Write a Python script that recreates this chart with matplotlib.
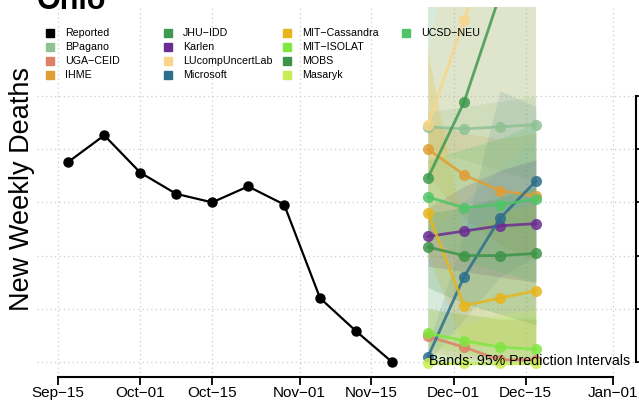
import numpy as np
import matplotlib
matplotlib.use("Agg")
import matplotlib.pyplot as plt
import matplotlib.dates as mdates
from datetime import datetime

plt.rcParams['font.family'] = ['Liberation Sans', 'DejaVu Sans']

# reported weekly deaths (axis values are not shown in the picture, scale is relative)
rep_dates = ['2020-09-17', '2020-09-24', '2020-10-01', '2020-10-08', '2020-10-15',
             '2020-10-22', '2020-10-29', '2020-11-05', '2020-11-12', '2020-11-19']
rep_vals = [188, 213, 178, 158, 150, 165, 148, 60, 29, 0]

fc_dates = ['2020-11-26', '2020-12-03', '2020-12-10', '2020-12-17']

models = ['BPagano', 'UGA-CEID', 'IHME', 'JHU-IDD', 'Karlen', 'LUcompUncertLab',
          'Microsoft', 'MIT-Cassandra', 'MIT-ISOLAT', 'MOBS', 'Masaryk', 'UCSD-NEU']
colors = ['#8fc193', '#e07f68', '#e09e35', '#3f9a4f', '#6a2d91', '#f9d58a',
          '#2c6e8c', '#e6b61c', '#80e640', '#3d9449', '#c9ee55', '#50c468']

point = {
    'BPagano':         [221, 219, 221, 223],
    'UGA-CEID':        [24, 14, 2, 2],
    'IHME':            [200, 176, 161, 156],
    'JHU-IDD':         [173, 244, 345, 450],
    'Karlen':          [118, 123, 128, 130],
    'LUcompUncertLab': [223, 321, 420, 520],
    'Microsoft':       [5, 80, 135, 170],
    'MIT-Cassandra':   [140, 53, 60, 67],
    'MIT-ISOLAT':      [27, 20, 14, 12],
    'MOBS':            [108, 100, 100, 102],
    'Masaryk':         [-1, -1, -1, -1],
    'UCSD-NEU':        [155, 145, 148, 153],
}
lower = {
    'BPagano':         [200, 190, 180, 170],
    'UGA-CEID':        [10, 3, 0, 0],
    'IHME':            [175, 135, 110, 95],
    'JHU-IDD':         [-3, -3, -3, -3],
    'Karlen':          [90, 85, 80, 75],
    'LUcompUncertLab': [120, 150, 180, 210],
    'Microsoft':       [0, 40, 80, 100],
    'MIT-Cassandra':   [100, 15, 15, 15],
    'MIT-ISOLAT':      [15, 8, 3, 0],
    'MOBS':            [70, 55, 45, 35],
    'Masaryk':         [-3, -3, -3, -3],
    'UCSD-NEU':        [120, 95, 85, 75],
}
upper = {
    'BPagano':         [235, 240, 245, 250],
    'UGA-CEID':        [50, 45, 40, 40],
    'IHME':            [225, 215, 210, 215],
    'JHU-IDD':         [600, 900, 1200, 1500],
    'Karlen':          [145, 165, 180, 190],
    'LUcompUncertLab': [290, 450, 650, 850],
    'Microsoft':       [15, 120, 255, 240],
    'MIT-Cassandra':   [290, 120, 140, 150],
    'MIT-ISOLAT':      [50, 45, 42, 42],
    'MOBS':            [140, 145, 155, 165],
    'Masaryk':         [15, 35, 45, 50],
    'UCSD-NEU':        [190, 200, 210, 225],
}

tick_dates = ['2020-09-15', '2020-10-01', '2020-10-15', '2020-11-01',
              '2020-11-15', '2020-12-01', '2020-12-15', '2021-01-01']
y_ticks = [0, 50, 100, 150, 200, 250]

W, H = 639, 412
fig = plt.figure(figsize=(W / 100, H / 100), dpi=100)
ax = fig.add_axes([37 / W, 1 - 377 / H, (636 - 37) / W, (377 - 7) / H])

to_num = lambda ds: mdates.date2num([datetime.strptime(d, '%Y-%m-%d') for d in ds])
rx = to_num(rep_dates)
fx = to_num(fc_dates)
tx = to_num(tick_dates)

# prediction bands
for m, c in zip(models, colors):
    a = 0.12 if m == 'Microsoft' else 0.2
    ax.fill_between(fx, lower[m], upper[m], color=c, alpha=a, lw=0)

# forecast lines
for m, c in zip(models, colors):
    ax.plot(fx, point[m], color=c, lw=2, alpha=0.85, marker='o', ms=8,
            mec='none', zorder=3)

ax.plot(rx, rep_vals, color='black', lw=1.6, marker='o', ms=6.5, zorder=4)

ax.set_xlim(tx[0] - 4.09, tx[-1] + 4.48)
ax.set_ylim(-14.1, 333.6)

# dotted grid
for t in tx:
    ax.axvline(t, color='#cccccc', ls=(0, (1, 2.5)), lw=0.9, zorder=0)
for v in y_ticks:
    ax.axhline(v, color='#cccccc', ls=(0, (1, 2.5)), lw=0.9, zorder=0)

for s in ['top', 'left']:
    ax.spines[s].set_visible(False)
ax.spines['bottom'].set_bounds(tx[0], tx[-1])
ax.spines['right'].set_bounds(y_ticks[0], y_ticks[-1])
ax.spines['bottom'].set_linewidth(1.5)
ax.spines['right'].set_linewidth(1.5)
ax.set_xticks(tx)
ax.set_xticklabels([datetime.strptime(d, '%Y-%m-%d').strftime('%b\u2212%d') for d in tick_dates],
                   fontsize=11)
ax.tick_params(axis='x', length=6, width=1.3, pad=0.5)
ax.set_yticks(y_ticks)
ax.yaxis.set_ticks_position('right')
ax.tick_params(axis='y', length=6, width=1.3, labelright=False, labelleft=False)

ax.text(630 / W, 1 - 361 / H, 'Bands: 95% Prediction Intervals', transform=fig.transFigure,
        ha='right', va='center', fontsize=10.2, zorder=5)

fig.text(22 / W, 1 - 189 / H, 'New Weekly Deaths', rotation=90, ha='center', va='center',
         fontsize=19.5)
fig.text(37 / W, 1 - 9 / H, 'Ohio', fontsize=22, fontweight='bold', va='baseline')

# legend, filled column by column like the original
leg_labels = ['Reported'] + models
leg_colors = ['black'] + colors
col_x = [50, 168, 287, 406]
row_y = [33, 47, 61, 75]
for i, (lab, c) in enumerate(zip(leg_labels, leg_colors)):
    col, row = divmod(i, 4)
    ax.plot([col_x[col] / W], [1 - row_y[row] / H], marker='s', ms=6, color=c,
            transform=fig.transFigure, clip_on=False, ls='none')
    fig.text((col_x[col] + 15) / W, 1 - row_y[row] / H, lab.replace('-', '\u2212'),
             fontsize=7.7, va='center')

fig.savefig('out.png', dpi=100)
